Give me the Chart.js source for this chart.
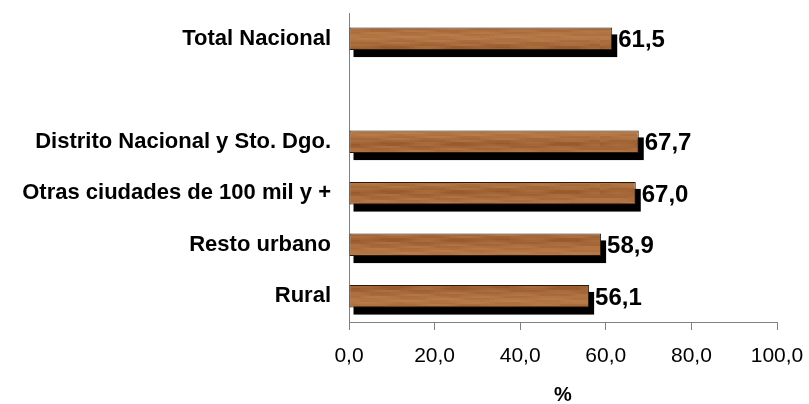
<!doctype html>
<html>
<head>
	<meta charset="utf-8">
	<script src="https://cdn.jsdelivr.net/npm/chart.js@4/dist/chart.umd.min.js"></script>
	<style>
	body { margin: 0; background: #fff; }
	#holder { width: 809px; height: 404px; }
	</style>
</head>
<body>
	<div id="holder">
		<canvas id="chart-area"></canvas>
	</div>
	<script>
		var categories = ['Total Nacional', '', 'Distrito Nacional y Sto. Dgo.', 'Otras ciudades de 100 mil y +', 'Resto urbano', 'Rural'];
		var values = [61.5, null, 67.7, 67.0, 58.9, 56.1];
		var xTicks = [0, 20, 40, 60, 80, 100];
		var axisTitle = '%';

		var fmt = function(v) {
			return v.toFixed(1).replace('.', ',');
		};

		// wood-ish fill for the bars
		var woodPattern = null;
		function getWood(ctx) {
			if (woodPattern) return woodPattern;
			var c = document.createElement('canvas');
			c.width = 300; c.height = 24;
			var g = c.getContext('2d');
			var grad = g.createLinearGradient(0, 0, 0, 24);
			grad.addColorStop(0, '#97582d');
			grad.addColorStop(0.3, '#a96a3b');
			grad.addColorStop(0.55, '#b27443');
			grad.addColorStop(0.8, '#a66737');
			grad.addColorStop(1, '#97582d');
			g.fillStyle = grad;
			g.fillRect(0, 0, 300, 24);
			for (var y = 0; y < 24; y += 2) {
				for (var x = 0; x < 300; x += 5) {
					var a = 0.1 + 0.14 * Math.sin(x * 0.09 + y * 1.7) * Math.cos(x * 0.023 + y * 0.6);
					if (a > 0.06) {
						g.fillStyle = 'rgba(215,165,110,' + a.toFixed(2) + ')';
						g.fillRect(x, y, 5, 2);
					}
				}
			}
			woodPattern = ctx.createPattern(c, 'repeat');
			return woodPattern;
		}

		var barShadow = {
			id: 'barShadow',
			beforeDatasetsDraw: function(chart) {
				var ctx = chart.ctx;
				var meta = chart.getDatasetMeta(0);
				ctx.save();
				ctx.fillStyle = '#000';
				meta.data.forEach(function(el, i) {
					if (values[i] === null) return;
					var h = el.height;
					ctx.fillRect(el.base + 4, el.y - h / 2 + 7, el.x - el.base + 1, h);
				});
				ctx.restore();
			}
		};

		var valueLabels = {
			id: 'valueLabels',
			afterDatasetsDraw: function(chart) {
				var ctx = chart.ctx;
				var meta = chart.getDatasetMeta(0);
				ctx.save();
				ctx.fillStyle = '#000';
				ctx.font = 'bold 24px "Liberation Sans", Arial, sans-serif';
				ctx.textBaseline = 'middle';
				ctx.textAlign = 'left';
				meta.data.forEach(function(el, i) {
					if (values[i] === null) return;
					ctx.fillText(fmt(values[i]), el.x + 6, el.y + 2);
				});
				ctx.restore();
			}
		};

		var config = {
			type: 'bar',
			data: {
				labels: categories,
				datasets: [{
					data: values,
					backgroundColor: function(c) { return getWood(c.chart.ctx); },
					borderColor: '#2b1a0c',
					borderWidth: 1,
					borderSkipped: false,
					barPercentage: 0.44,
					categoryPercentage: 1
				}]
			},
			options: {
				indexAxis: 'y',
				responsive: true,
				maintainAspectRatio: false,
				animation: false,
				layout: {
					padding: { top: 13, right: 32, left: 0, bottom: 0 }
				},
				plugins: {
					legend: { display: false },
					tooltip: { enabled: false }
				},
				scales: {
					x: {
						min: 0,
						max: 100,
						afterBuildTicks: function(scale) {
							scale.ticks = xTicks.map(function(v) { return { value: v }; });
						},
						afterFit: function(scale) {
							scale.height = 82;
							scale.paddingLeft = 0;
							scale.paddingRight = 0;
						},
						grid: {
							drawOnChartArea: false,
							drawTicks: true,
							tickLength: 8,
							color: '#808080'
						},
						border: { display: true, color: '#808080', width: 1 },
						ticks: {
							color: '#000',
							padding: 14,
							maxRotation: 0,
							font: { family: '"Liberation Sans", Arial, sans-serif', size: 21 },
							callback: function(v) { return fmt(v); }
						},
						title: {
							display: true,
							text: axisTitle,
							color: '#000',
							padding: { top: 13, bottom: -3 },
							font: { family: '"Liberation Sans", Arial, sans-serif', size: 20, weight: 'bold' }
						}
					},
					y: {
						afterFit: function(scale) {
							scale.width = 349;
							scale.paddingTop = 0;
							scale.paddingBottom = 0;
						},
						grid: { display: false, drawTicks: false },
						border: { display: true, color: '#808080', width: 1 },
						ticks: {
							color: '#000',
							padding: 18,
							font: { family: '"Liberation Sans", Arial, sans-serif', size: 22, weight: 'bold' }
						}
					}
				}
			},
			plugins: [barShadow, valueLabels]
		};

		window.onload = function() {
			var ctx = document.getElementById('chart-area').getContext('2d');
			window.myBar = new Chart(ctx, config);
		};
	</script>
</body>
</html>
